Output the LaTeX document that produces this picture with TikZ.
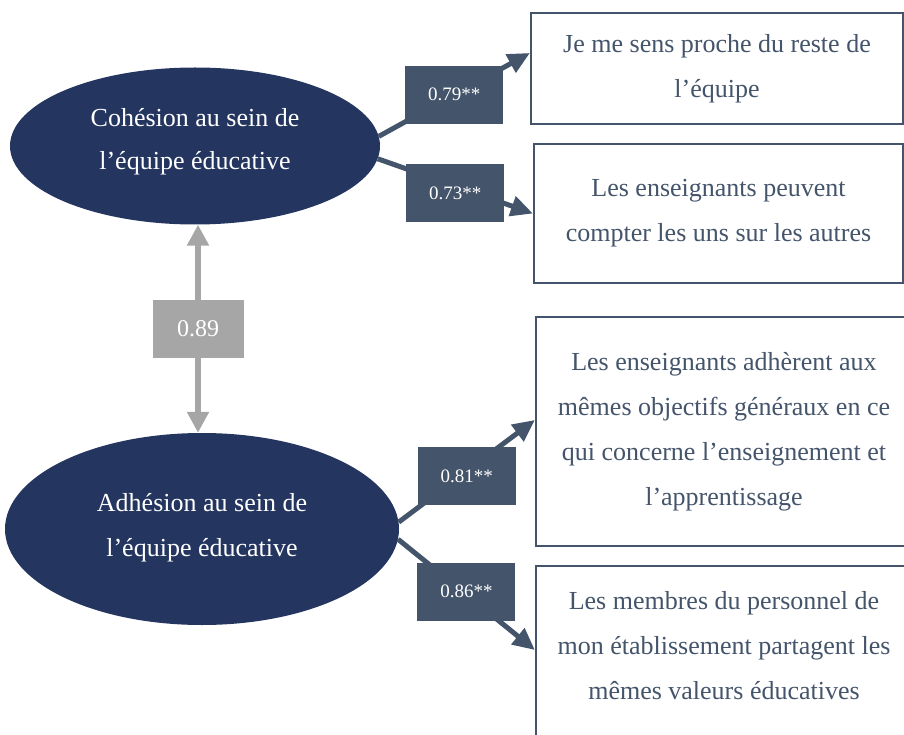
\documentclass[tikz,border=0pt]{standalone}
\usepackage{fontspec}
\setmainfont{Liberation Serif}
\usepackage{xcolor}
\definecolor{navycol}{HTML}{24355F}
\definecolor{slatecol}{HTML}{44546A}
\definecolor{corrcol}{HTML}{A6A6A6}
\usepackage{tikz}
\usetikzlibrary{arrows.meta, shapes.geometric, positioning}

\begin{document}
\begin{tikzpicture}[
  x=1pt, y=-1pt,
  latent/.style={ellipse, fill=navycol, text=white, inner sep=0pt,
                 align=center, font=\fontsize{26}{43}\selectfont},
  item/.style={rectangle, draw=slatecol, line width=2.2pt, text=slatecol,
               align=center, inner sep=0pt,
               font=\fontsize{26}{45}\selectfont},
  coef/.style={rectangle, fill=slatecol, text=white,
               minimum width=98pt, minimum height=58pt,
               font=\fontsize{19}{21}\selectfont},
  corrcoef/.style={rectangle, fill=corrcol, text=white,
                   minimum width=91pt, minimum height=58pt,
                   font=\fontsize{24}{26}\selectfont},
  arr/.style={-{Triangle[length=22pt, width=20pt]}, line width=5pt, slatecol},
  corr/.style={{Triangle[length=21pt, width=21pt]}-{Triangle[length=21pt, width=21pt]},
               line width=6pt, corrcol},
]
\useasboundingbox (0,0) rectangle (904,735);

%% Latent factors (left column)
\node[latent, minimum width=370pt, minimum height=157pt] (coh) at (195,146)
  {Cohésion au sein de\\l’équipe éducative\\[-28pt]};
\node[latent, minimum width=394pt, minimum height=192pt] (adh) at (202,529)
  {Adhésion au sein de\\[2pt]l’équipe éducative\\[-34pt]};

%% Items (right column)
\node[item, minimum width=372pt, minimum height=111pt] (it1) at (717,68.5)
  {Je me sens proche du reste de\\l’équipe};
\node[item, minimum width=369pt, minimum height=139pt] (it2) at (718.5,213.5)
  {Les enseignants peuvent\\compter les uns sur les autres};
\node[item, minimum width=376pt, minimum height=229pt] (it3) at (724,431.5)
  {Les enseignants adhèrent aux\\mêmes objectifs généraux en ce\\qui concerne l’enseignement et\\l’apprentissage};
\node[item, minimum width=376pt, minimum height=194pt] (it4) at (724,663) {};
\node[text=slatecol, align=center, font=\fontsize{26}{45}\selectfont] (it4txt) at (724,646)
  {Les membres du personnel de\\mon établissement partagent les\\mêmes valeurs éducatives};

%% Loadings
\draw[arr] (coh.3)  -- node[coef] {0.79**} ([yshift=15.5pt]it1.west);
\draw[arr] (coh.-4) -- node[coef, yshift=-7pt] {0.73**} (it2.west);
\draw[arr] (adh.2)  -- node[coef, yshift=-5pt] {0.81**} ([yshift=11.5pt]it3.west);
\draw[arr] (adh.-3) -- node[coef, yshift=3pt] {0.86**} ([yshift=13pt]it4.west);

%% Correlation
\draw[corr] ([xshift=3pt]coh.south) -- node[corrcoef] {0.89} ([xshift=-4pt]adh.north);

\end{tikzpicture}
\end{document}
